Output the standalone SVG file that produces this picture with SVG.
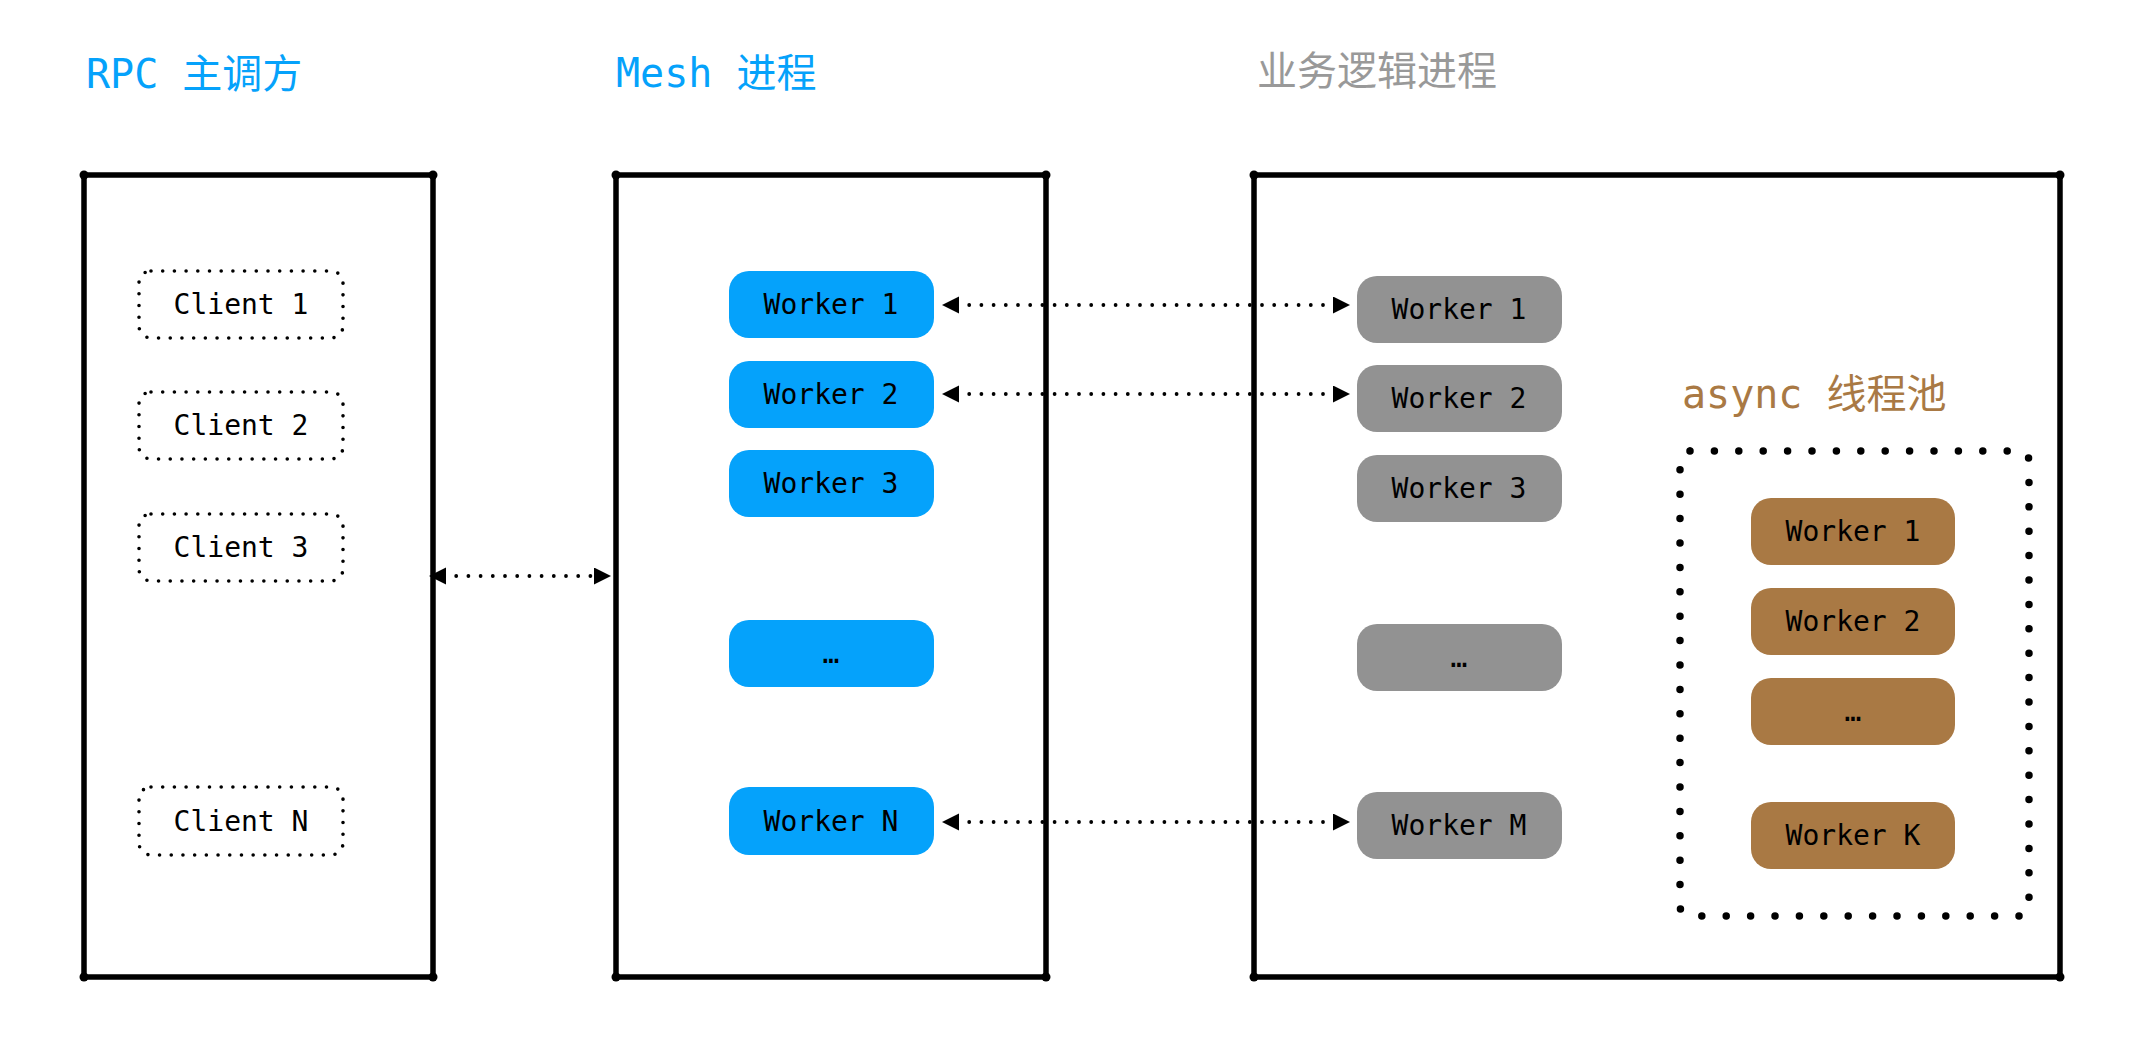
<svg xmlns="http://www.w3.org/2000/svg" width="2136" height="1060" viewBox="0 0 2136 1060">
<defs>
<style>
.title{font-family:"DejaVu Sans Mono","Noto Sans CJK SC",monospace;font-size:40px;}
.lbl{font-family:"DejaVu Sans Mono","Noto Sans CJK SC",monospace;font-size:28px;fill:#000;text-anchor:middle;}
.box{fill:none;stroke:#000;stroke-width:5.5;stroke-linejoin:round;}
.corner{fill:#000;}
.client{fill:none;stroke:#000;stroke-width:3.6;stroke-dasharray:0 11.7;stroke-linecap:round;}
.pool{fill:none;stroke:#000;stroke-width:7.5;stroke-dasharray:0 24.4;stroke-linecap:round;}
.blue{fill:#05a2fb;}
.gray{fill:#929292;}
.brown{fill:#a97944;}
.conn{fill:none;stroke:#000;stroke-width:3.8;stroke-dasharray:0 12.2;stroke-dashoffset:2;stroke-linecap:round;marker-start:url(#ah);marker-end:url(#ah);}
</style>
<marker id="ah" markerUnits="userSpaceOnUse" markerWidth="18" markerHeight="18" refX="0" refY="8.5" orient="auto-start-reverse" viewBox="0 0 18 18">
<path d="M0,0 L17,8.5 L0,17 Z" fill="#000"/>
</marker>
</defs>
<rect width="2136" height="1060" fill="#fff"/>

<g id="title-rpc"><text class="title" x="86" y="88" fill="#05a2fb">RPC 主调方</text></g>
<g id="title-mesh"><text class="title" x="616" y="87" fill="#05a2fb">Mesh 进程</text></g>
<g id="title-biz"><text class="title" x="1257" y="85" fill="#999999" style="font-family:'Noto Sans CJK SC',sans-serif">业务逻辑进程</text></g>

<g id="rpc-box">
<rect class="box" x="84" y="175" width="349" height="802"/>
<circle class="corner" cx="84" cy="175" r="4.5"/><circle class="corner" cx="433" cy="175" r="4.5"/>
<circle class="corner" cx="84" cy="977" r="4.5"/><circle class="corner" cx="433" cy="977" r="4.5"/>
</g>
<g id="mesh-box">
<rect class="box" x="616" y="175" width="430" height="802"/>
<circle class="corner" cx="616" cy="175" r="4.5"/><circle class="corner" cx="1046" cy="175" r="4.5"/>
<circle class="corner" cx="616" cy="977" r="4.5"/><circle class="corner" cx="1046" cy="977" r="4.5"/>
</g>
<g id="biz-box">
<rect class="box" x="1254" y="175" width="806" height="802"/>
<circle class="corner" cx="1254" cy="175" r="4.5"/><circle class="corner" cx="2060" cy="175" r="4.5"/>
<circle class="corner" cx="1254" cy="977" r="4.5"/><circle class="corner" cx="2060" cy="977" r="4.5"/>
</g>

<g id="client-1"><rect class="client" x="139" y="271" width="204" height="67" rx="12"/><text class="lbl" x="241" y="314">Client 1</text></g>
<g id="client-2"><rect class="client" x="139" y="392" width="204" height="67" rx="12"/><text class="lbl" x="241" y="435">Client 2</text></g>
<g id="client-3"><rect class="client" x="139" y="514" width="204" height="67" rx="12"/><text class="lbl" x="241" y="557">Client 3</text></g>
<g id="client-n"><rect class="client" x="139" y="787" width="204" height="68" rx="12"/><text class="lbl" x="241" y="831">Client N</text></g>

<g id="mesh-w1"><rect class="blue" x="729" y="271" width="205" height="67" rx="20"/><text class="lbl" x="831" y="314">Worker 1</text></g>
<g id="mesh-w2"><rect class="blue" x="729" y="361" width="205" height="67" rx="20"/><text class="lbl" x="831" y="404">Worker 2</text></g>
<g id="mesh-w3"><rect class="blue" x="729" y="450" width="205" height="67" rx="20"/><text class="lbl" x="831" y="493">Worker 3</text></g>
<g id="mesh-dots"><rect class="blue" x="729" y="620" width="205" height="67" rx="20"/><text class="lbl" x="831" y="663">…</text></g>
<g id="mesh-wn"><rect class="blue" x="729" y="787" width="205" height="68" rx="20"/><text class="lbl" x="831" y="831">Worker N</text></g>

<g id="biz-w1"><rect class="gray" x="1357" y="276" width="205" height="67" rx="20"/><text class="lbl" x="1459" y="319">Worker 1</text></g>
<g id="biz-w2"><rect class="gray" x="1357" y="365" width="205" height="67" rx="20"/><text class="lbl" x="1459" y="408">Worker 2</text></g>
<g id="biz-w3"><rect class="gray" x="1357" y="455" width="205" height="67" rx="20"/><text class="lbl" x="1459" y="498">Worker 3</text></g>
<g id="biz-dots"><rect class="gray" x="1357" y="624" width="205" height="67" rx="20"/><text class="lbl" x="1459" y="667">…</text></g>
<g id="biz-wm"><rect class="gray" x="1357" y="792" width="205" height="67" rx="20"/><text class="lbl" x="1459" y="835">Worker M</text></g>

<g id="async-pool">
<text class="title" x="1682" y="408" fill="#a97944">async 线程池</text>
<rect class="pool" x="1680" y="451" width="349" height="465" rx="10"/>
</g>
<g id="async-w1"><rect class="brown" x="1751" y="498" width="204" height="67" rx="20"/><text class="lbl" x="1853" y="541">Worker 1</text></g>
<g id="async-w2"><rect class="brown" x="1751" y="588" width="204" height="67" rx="20"/><text class="lbl" x="1853" y="631">Worker 2</text></g>
<g id="async-dots"><rect class="brown" x="1751" y="678" width="204" height="67" rx="20"/><text class="lbl" x="1853" y="721">…</text></g>
<g id="async-wk"><rect class="brown" x="1751" y="802" width="204" height="67" rx="20"/><text class="lbl" x="1853" y="845">Worker K</text></g>

<g id="connectors">
<path class="conn" d="M446,576 L594,576"/>
<path class="conn" d="M959,305 L1333,305"/>
<path class="conn" d="M959,394 L1333,394"/>
<path class="conn" d="M959,822 L1333,822"/>
</g>
</svg>
